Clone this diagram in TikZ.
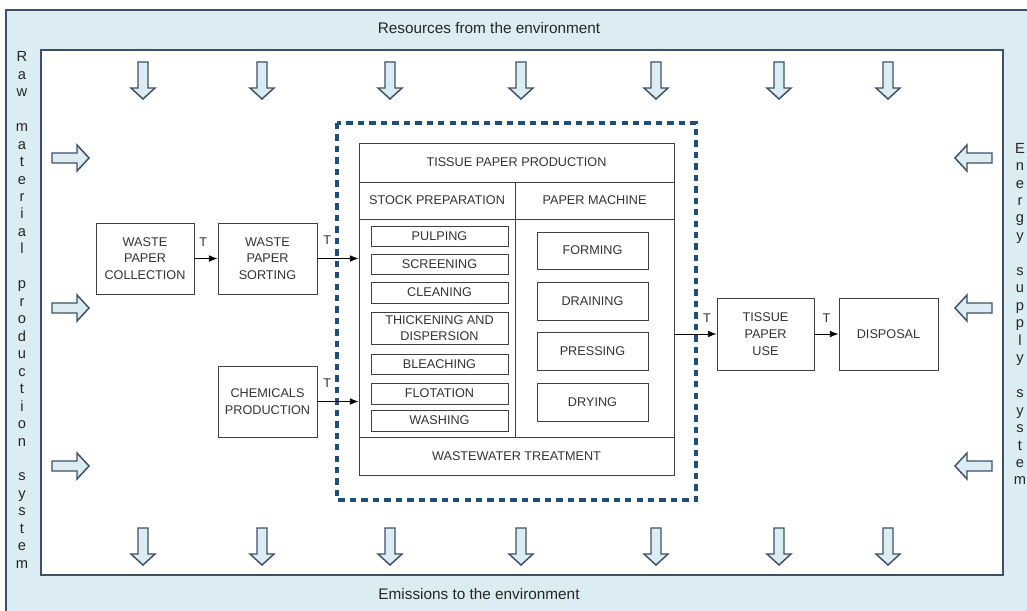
\documentclass[tikz,border=0pt]{standalone}
\usepackage{fontspec}
\setmainfont{Liberation Sans}
\usetikzlibrary{arrows.meta}
\definecolor{frame}{HTML}{3D5068}
\definecolor{lightb}{HTML}{DBECF3}
\definecolor{dashc}{HTML}{1F4E79}
\definecolor{txt}{HTML}{333333}
\definecolor{boxc}{HTML}{404040}
\newcommand\dnarrow[2]{\draw[blk] (#1-5,#2) -- (#1+5,#2) -- (#1+5,#2+26) -- (#1+12,#2+26) -- (#1,#2+37) -- (#1-12,#2+26) -- (#1-5,#2+26) -- cycle;}
\newcommand\rtarrow[2]{\draw[blk] (#1,#2-5) -- (#1+25,#2-5) -- (#1+25,#2-13) -- (#1+37,#2) -- (#1+25,#2+13) -- (#1+25,#2+5) -- (#1,#2+5) -- cycle;}
\newcommand\ltarrow[2]{\draw[blk] (#1,#2-5) -- (#1-25,#2-5) -- (#1-25,#2-13) -- (#1-37,#2) -- (#1-25,#2+13) -- (#1-25,#2+5) -- (#1,#2+5) -- cycle;}
\newcommand\bx[6]{\node[box, minimum width={(#4-#2)*0.75pt}, minimum height={(#5-#3)*0.75pt}] (#1) at ({(#2+#4)/2},{(#3+#5)/2}) {#6};}
\tikzset{
  box/.style={draw=boxc, line width=0.7pt, text=txt, font=\fontsize{9.5}{12.5}\selectfont, align=center, inner sep=0pt},
  flow/.style={-{Latex[length=6.5pt,width=5pt]}, line width=0.6pt, black},
  tl/.style={font=\fontsize{9.5}{11}\selectfont, text=txt, inner sep=0pt},
  blk/.style={draw=frame, fill=lightb, line width=1.1pt, miter limit=10},
  side/.style={font=\fontsize{11}{13.1}\selectfont, align=center, inner sep=0pt, text=black!85},
  head/.style={font=\fontsize{11.5}{13}\selectfont, inner sep=0pt, text=black!85},
}
\begin{document}
\begin{tikzpicture}[x=0.75pt,y=-0.75pt]
\useasboundingbox (0,0) rectangle (1027,610);
% frames
\fill[white] (0,0) rectangle (1027,610);
\draw[fill=lightb, draw=frame, line width=1.3pt] (6,10) rectangle (1045,625);
\draw[fill=white, draw=frame, line width=1.3pt] (41,50) rectangle (1003,575);
\node[head] (res) at (489,28) {Resources from the environment};
\node[head] (emi) at (479,594) {Emissions to the environment};
\node[side] (raw) at (22,310) {R\\a\\w\\[13.1pt]m\\a\\t\\e\\r\\i\\a\\l\\[13.1pt]p\\r\\o\\d\\u\\c\\t\\i\\o\\n\\[13.1pt]s\\y\\s\\t\\e\\m};
\node[side] (ene) at (1020,314) {E\\n\\e\\r\\g\\y\\[13.1pt]s\\u\\p\\p\\l\\y\\[13.1pt]s\\y\\s\\t\\e\\m};
% block arrows
\foreach \cx in {143,262,390,521,656,779,888}{\dnarrow{\cx}{62}\dnarrow{\cx}{528}}
\foreach \cy in {158,308,466}{\rtarrow{52}{\cy}\ltarrow{992}{\cy}}
% dashed boundary
\draw[dashc, line width=2.5pt, dash pattern=on 4.8pt off 3.8pt] (337,123) rectangle (696,500);
% main box
\bx{main}{359}{143}{674}{475}{}
\bx{tpp}{359}{143}{674}{182}{TISSUE PAPER PRODUCTION}
\bx{stock}{359}{182}{515}{219}{STOCK PREPARATION}
\bx{pm}{515}{182}{674}{219}{PAPER MACHINE}
\bx{stockbody}{359}{219}{515}{437}{}
\bx{pmbody}{515}{219}{674}{437}{}
\bx{ww}{359}{437}{674}{475}{WASTEWATER TREATMENT}
% stock preparation steps
\bx{pul}{371}{226}{508}{246}{PULPING}
\bx{scr}{371}{254}{508}{274}{SCREENING}
\bx{cle}{371}{282}{508}{303}{CLEANING}
\bx{thi}{371}{312}{508}{344}{THICKENING AND\\DISPERSION}
\bx{ble}{371}{354}{508}{374}{BLEACHING}
\bx{flo}{371}{383}{508}{404}{FLOTATION}
\bx{was}{371}{410}{508}{431}{WASHING}
% paper machine steps
\bx{for}{537}{232}{648}{269}{FORMING}
\bx{dra}{537}{282}{648}{320}{DRAINING}
\bx{pre}{537}{332}{648}{370}{PRESSING}
\bx{dry}{537}{383}{648}{421}{DRYING}
% outside boxes
\bx{wpc}{96}{223}{194}{294}{WASTE\\PAPER\\COLLECTION}
\bx{wps}{218}{223}{317}{294}{WASTE\\PAPER\\SORTING}
\bx{chem}{218}{366}{317}{437}{CHEMICALS\\PRODUCTION}
\bx{tpu}{717}{298}{814}{370}{TISSUE\\PAPER\\USE}
\bx{dis}{839}{298}{938}{370}{DISPOSAL}
% flows
\draw[flow] (wpc.east) -- node[tl, pos=0.38, above=9pt] {T} (wps.west);
\draw[flow] (wps.east) -- node[tl, pos=0.24, above=10pt] {T} (wps.east -| main.west);
\draw[flow] (chem.east) -- node[tl, pos=0.24, above=10pt] {T} (chem.east -| main.west);
\draw[flow] (tpu.west -| main.east) -- node[tl, pos=0.77, above=8pt] {T} (tpu.west);
\draw[flow] (tpu.east) -- node[tl, pos=0.5, above=8pt] {T} (dis.west);
\end{tikzpicture}
\end{document}
